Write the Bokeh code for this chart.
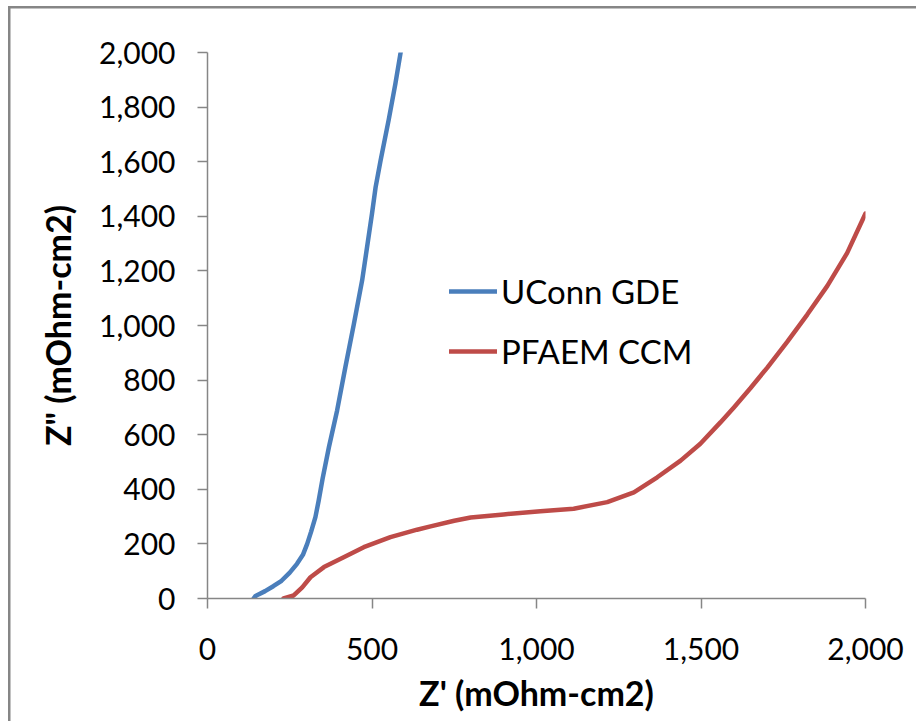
from bokeh.plotting import figure
from bokeh.models import Range1d, FixedTicker, NumeralTickFormatter, Legend, LegendItem
from bokeh.embed import file_html
from bokeh.resources import INLINE

# UConn GDE series
uconn_x = [140, 145, 155, 175, 200, 225, 250, 272, 290, 303, 315, 328, 338, 350, 369, 394, 419, 445, 470, 485, 500, 511, 526, 551, 571, 587]
uconn_y = [0, 8, 15, 27, 45, 65, 95, 127, 160, 200, 245, 298, 359, 440, 554, 689, 847, 1006, 1165, 1287, 1410, 1507, 1604, 1755, 1885, 2000]

# PFAEM CCM series
pfaem_x = [231, 262, 288, 313, 354, 414, 475, 556, 637, 678, 750, 800, 900, 1012, 1113, 1215, 1296, 1367, 1438, 1498, 1559, 1600, 1650, 1701, 1762, 1823, 1884, 1944, 2000]
pfaem_y = [0, 11, 41, 78, 115, 151, 188, 225, 252, 264, 285, 297, 308, 320, 329, 353, 389, 444, 505, 567, 645, 700, 770, 845, 940, 1040, 1145, 1265, 1410]

x_ticks = [0, 500, 1000, 1500, 2000]
y_ticks = [0, 200, 400, 600, 800, 1000, 1200, 1400, 1600, 1800, 2000]

series_names = ["UConn GDE", "PFAEM CCM"]
x_title = "Z' (mOhm-cm2)"
y_title = 'Z" (mOhm-cm2)'

FONT = "Lato"
AXIS_COLOR = "#868686"

p = figure(width=916, height=721, output_backend="svg", toolbar_location=None,
           x_range=Range1d(0, 2000), y_range=Range1d(0, 2000),
           min_border_left=207, min_border_right=51, min_border_top=52, min_border_bottom=123)
p.outline_line_color = None
p.xgrid.visible = False
p.ygrid.visible = False
p.background_fill_color = "white"
p.border_fill_alpha = 0
p.styles = {
    "background-color": "white",
    "background-image": "linear-gradient(#868686, #868686), linear-gradient(#868686, #868686)",
    "background-size": "100% 2.5px, 2.5px 100%",
    "background-position": "8px 6px, 8px 6px",
    "background-repeat": "no-repeat",
}

r1 = p.line(uconn_x, uconn_y, line_color="#4A7EBB", line_width=4.5, line_join="round", line_cap="round")
r2 = p.line(pfaem_x, pfaem_y, line_color="#BE4B48", line_width=4.5, line_join="round", line_cap="round")

for ax in (p.xaxis[0], p.yaxis[0]):
    ax.axis_line_color = AXIS_COLOR
    ax.axis_line_width = 1.5
    ax.major_tick_line_color = AXIS_COLOR
    ax.major_tick_line_width = 1.5
    ax.major_tick_in = 0
    ax.major_tick_out = 10
    ax.minor_tick_line_color = None
    ax.major_label_text_font = FONT
    ax.major_label_text_font_size = "30px"
    ax.major_label_text_color = "black"
    ax.axis_label_text_font = FONT
    ax.axis_label_text_font_style = "bold"
    ax.axis_label_text_font_size = "34px"
    ax.axis_label_text_color = "black"
    ax.formatter = NumeralTickFormatter(format="0,0")

p.xaxis[0].ticker = FixedTicker(ticks=x_ticks)
p.yaxis[0].ticker = FixedTicker(ticks=y_ticks)
p.xaxis[0].axis_label = x_title
p.yaxis[0].axis_label = y_title
p.xaxis[0].major_label_standoff = 29
p.yaxis[0].major_label_standoff = 22
p.xaxis[0].axis_label_standoff = 9
p.yaxis[0].axis_label_standoff = 18

legend = Legend(items=[LegendItem(label=series_names[0], renderers=[r1]),
                       LegendItem(label=series_names[1], renderers=[r2])],
                location=(242, 227), orientation="vertical")
legend.label_text_font = FONT
legend.label_text_font_size = "33px"
legend.label_text_color = "black"
legend.glyph_width = 48
legend.glyph_height = 40
legend.label_height = 40
legend.spacing = 20
legend.padding = 0
legend.margin = 0
legend.label_standoff = 4
legend.border_line_color = None
legend.background_fill_alpha = 0
p.add_layout(legend)

open("out.html", "w").write(file_html(p, INLINE))
